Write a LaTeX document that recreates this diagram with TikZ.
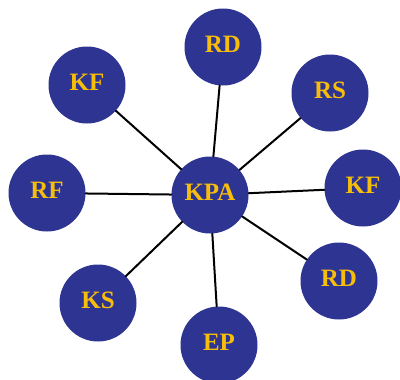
\documentclass[tikz,border=0pt]{standalone}
\usepackage{fontspec}
\setmainfont{Liberation Serif}
\usepackage{tikz}
\definecolor{hubblue}{RGB}{46,52,146}
\definecolor{hubgold}{RGB}{246,190,10}

\begin{document}
\begin{tikzpicture}[line cap=round,line join=round
  ,x=1pt,y=-1pt
  ,hub/.style={circle,fill=hubblue,minimum size=77pt,inner sep=0pt,
    text depth=6pt,text=hubgold,font=\fontsize{25}{25}\selectfont\bfseries}
  ,spoke/.style={line width=2pt,color=black}]
  \useasboundingbox (0,0) rectangle (400,380);
  \node[hub] (kpa) at (210,195) {KPA};
  \node[hub] (rdtop) at (223,47) {RD};
  \node[hub] (kfleft) at (87,85) {KF};
  \node[hub] (rs) at (330,93) {RS};
  \node[hub] (rf) at (47,193) {RF};
  \node[hub] (kfright) at (363,188) {KF};
  \node[hub] (rdright) at (339,281) {RD};
  \node[hub] (ks) at (98,303) {KS};
  \node[hub] (ep) at (219,345) {EP};
  \foreach \n in {rdtop,kfleft,rs,rf,kfright,rdright,ks,ep}
  \draw[spoke] (kpa) -- (\n);
\end{tikzpicture}
\end{document}
